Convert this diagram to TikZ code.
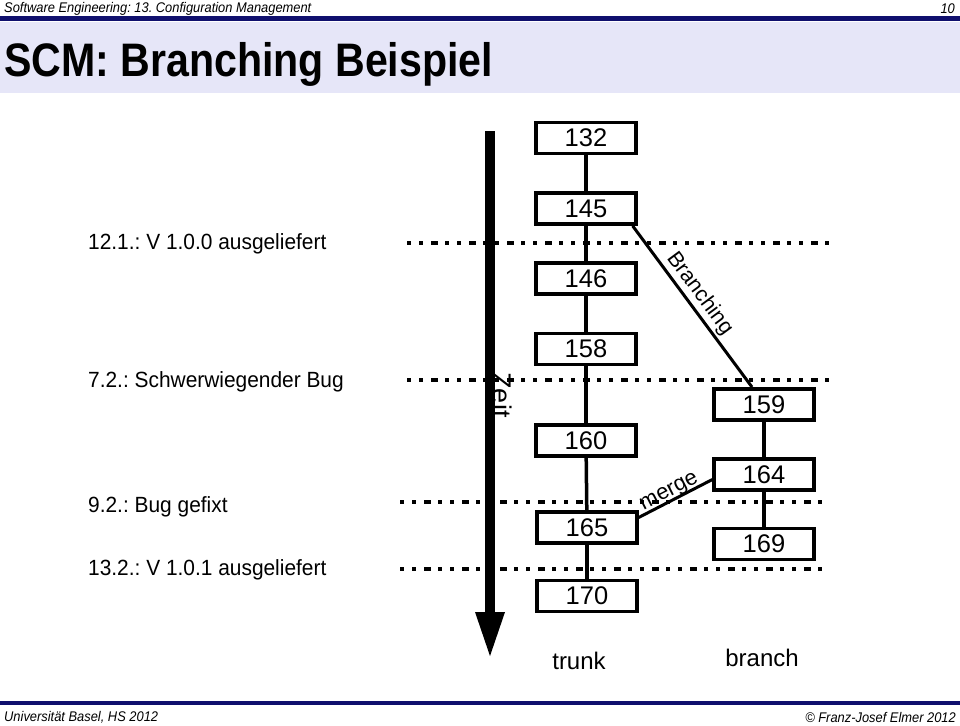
\documentclass[tikz,border=0pt]{standalone}
\usepackage{fontspec}
\setmainfont{Liberation Sans}
\frenchspacing
\definecolor{navy}{RGB}{16,16,110}
\definecolor{band}{RGB}{230,230,248}
\begin{document}
\begin{tikzpicture}[x=1pt,y=-1pt,
  ver/.style={draw, line width=3.8pt, minimum width=99.5pt, minimum height=31pt,
    fill=white, inner sep=0pt, font=\fontsize{25.5}{28}\selectfont},
  conn/.style={line width=3.5pt},
  timeline/.style={line width=4pt, dash pattern=on 4pt off 8pt on 4pt off 8pt on 7pt off 7pt},
  lbl/.style={anchor=west, inner sep=0pt, font=\fontsize{22}{24}\selectfont, xscale=0.95},
  colname/.style={inner sep=0pt, font=\fontsize{24}{28}\selectfont},
  hdr/.style={inner sep=0pt, font=\fontsize{14}{16}\selectfont\itshape, xscale=0.92},
]
\useasboundingbox (0,0) rectangle (960,725);
% header
\fill[band] (0,22) rectangle (960,93);
\fill[navy] (0,16.5) rectangle (960,21);
\node[hdr, anchor=west] (htitle) at (4,9) {Software Engineering: 13. Configuration Management};
\node[hdr, anchor=east] (hpage) at (955,9) {10};
\node[anchor=west, inner sep=0pt, font=\fontsize{47}{50}\selectfont\bfseries, xscale=0.875] (title) at (4,64) {SCM: Branching Beispiel};
% footer
\fill[navy] (0,701) rectangle (960,705);
\node[hdr, anchor=west] (fleft) at (4,717) {Universität Basel, HS 2012};
\node[hdr, anchor=east] (fright) at (956,717) {© Franz-Josef Elmer 2012};

% time lines
\coordinate (t1a) at (407,243); \coordinate (t1b) at (836,243);
\coordinate (t2a) at (407,380); \coordinate (t2b) at (836,380);
\coordinate (t3a) at (400,502); \coordinate (t3b) at (829,502);
\coordinate (t4a) at (400,569); \coordinate (t4b) at (829,569);
\draw[timeline] (t1a) -- (t1b);
\draw[timeline] (t2a) -- (t2b);
\draw[timeline] (t3a) -- (t3b);
\draw[timeline] (t4a) -- (t4b);

\node[lbl] (l1) at (88,244) {12.1.: V 1.0.0 ausgeliefert};
\node[lbl] (l2) at (88,382) {7.2.: Schwerwiegender Bug};
\node[lbl] (l3) at (88,507) {9.2.: Bug gefixt};
\node[lbl] (l4) at (88,570) {13.2.: V 1.0.1 ausgeliefert};

% time arrow
\fill (485,131) rectangle (495,616);
\fill (475,612) -- (505,612) -- (490,656) -- cycle;
\node[rotate=-90, inner sep=0pt, font=\fontsize{27}{30}\selectfont] (zeit) at (502,395) {Zeit};

% trunk
\node[ver] (n132) at (586,138) {132};
\node[ver] (n145) at (586,208.5) {145};
\node[ver] (n146) at (586,278.5) {146};
\node[ver] (n158) at (586,349) {158};
\node[ver] (n160) at (586,440.5) {160};
\node[ver] (n165) at (587,527.5) {165};
\node[ver] (n170) at (587,596) {170};
% branch
\node[ver] (n159) at (764,404.5) {159};
\node[ver] (n164) at (764,474.5) {164};
\node[ver] (n169) at (764,544) {169};

\draw[conn] (n132) -- (n145);
\draw[conn] (n145) -- (n146);
\draw[conn] (n146) -- (n158);
\draw[conn] (n158) -- (n160);
\draw[conn] (n160) -- (n165);
\draw[conn] (n165) -- (n170);
\draw[conn] (n159) -- (n164);
\draw[conn] (n164) -- (n169);

% branching
\draw[line width=3pt] ([xshift=-5pt]n145.south east) -- ([xshift=-12pt]n159.north)
  node[pos=0.47, sloped, above, inner sep=2pt, font=\fontsize{21.5}{24}\selectfont] (blabel) {Branching};
% merge
\draw[line width=3pt] ([yshift=10pt]n165.east) -- ([yshift=-5pt]n164.west)
  node[pos=0.47, sloped, above=-3pt, inner sep=1pt, font=\fontsize{22}{24}\selectfont] (mlabel) {merge};

\node[colname] (trunk) at (579,661) {trunk};
\node[colname] (branch) at (762,658) {branch};
\end{tikzpicture}
\end{document}
